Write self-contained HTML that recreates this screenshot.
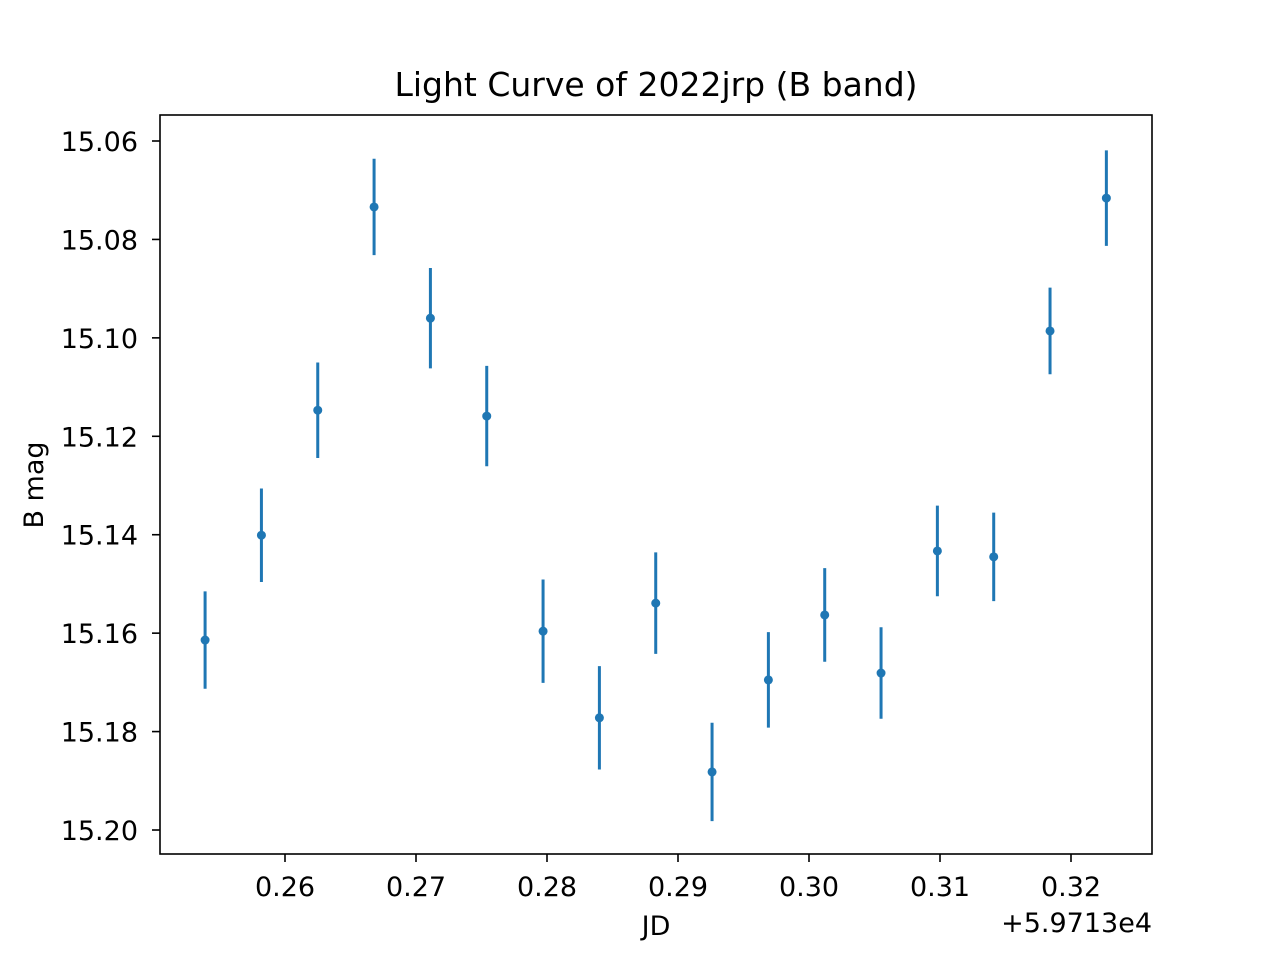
<!DOCTYPE html>
<html><head><meta charset="utf-8"><style>
body{margin:0;background:#fff}
svg{display:block}
text{font-family:"DejaVu Sans","Liberation Sans",sans-serif}
</style></head><body>
<svg id="chart" width="1280" height="960" xmlns="http://www.w3.org/2000/svg">
<rect width="1280" height="960" fill="#fff"/>
<text x="656" y="96" style="font-size:33px" text-anchor="middle">Light Curve of 2022jrp (B band)</text>
<text x="656" y="935" style="font-size:27px" text-anchor="middle">JD</text>
<text x="1152" y="932" style="font-size:27px" text-anchor="end">+5.9713e4</text>
<text transform="translate(43,485) rotate(-90)" style="font-size:27px" text-anchor="middle">B mag</text>
<g id="marks"></g>
<rect x="160" y="115" width="992" height="739" fill="none" stroke="#000" stroke-width="1.6"/>
</svg>
<script>
const jd = [0.2539,0.2582,0.2625,0.2668,0.2711,0.2754,0.2797,0.2840,0.2883,0.2926,0.2969,0.3012,0.3055,0.3098,0.3141,0.3184,0.3227];
const mag = [15.1614,15.1401,15.1147,15.0734,15.0960,15.1159,15.1596,15.1772,15.1539,15.1882,15.1695,15.1563,15.1681,15.1433,15.1445,15.0986,15.0716];
const err = [0.0099,0.0095,0.0097,0.0098,0.0102,0.0102,0.0105,0.0105,0.0103,0.0100,0.0097,0.0095,0.0093,0.0092,0.0090,0.0088,0.0097];
const xTicks = [0.26,0.27,0.28,0.29,0.30,0.31,0.32];
const xTickLabels = ["0.26","0.27","0.28","0.29","0.30","0.31","0.32"];
const yTicks = [15.06,15.08,15.10,15.12,15.14,15.16,15.18,15.20];
const yTickLabels = ["15.06","15.08","15.10","15.12","15.14","15.16","15.18","15.20"];

const X = v => 285 + (v - 0.26) * 13100;
const Y = v => 141 + (v - 15.06) * 4921.5;
const NS = "http://www.w3.org/2000/svg";
const g = document.getElementById('marks');
function mk(tag, attrs){const e=document.createElementNS(NS,tag);for(const k in attrs)e.setAttribute(k,attrs[k]);g.appendChild(e);return e;}

xTicks.forEach((t,i)=>{
  const l=mk('line',{x1:X(t),x2:X(t),y1:854,y2:862,stroke:'#000','stroke-width':1.6});
  
  
  const tx=mk('text',{x:X(t),y:896,'text-anchor':'middle',style:'font-size:27px'});
  tx.textContent=xTickLabels[i];
  
  
});
yTicks.forEach((t,i)=>{
  const l=mk('line',{x1:152,x2:160,y1:Y(t),y2:Y(t),stroke:'#000','stroke-width':1.6});
  
  
  const tx=mk('text',{x:138,y:Y(t)+10,'text-anchor':'end',style:'font-size:27px'});
  tx.textContent=yTickLabels[i];
  
  
});
jd.forEach((v,i)=>{
  const l=mk('line',{x1:X(v),x2:X(v),y1:Y(mag[i]-err[i]),y2:Y(mag[i]+err[i]),stroke:'#1f77b4','stroke-width':3});
  
  
  const c=mk('circle',{cx:X(v),cy:Y(mag[i]),r:4.5,fill:'#1f77b4'});
  
  
});
</script>
</body></html>
